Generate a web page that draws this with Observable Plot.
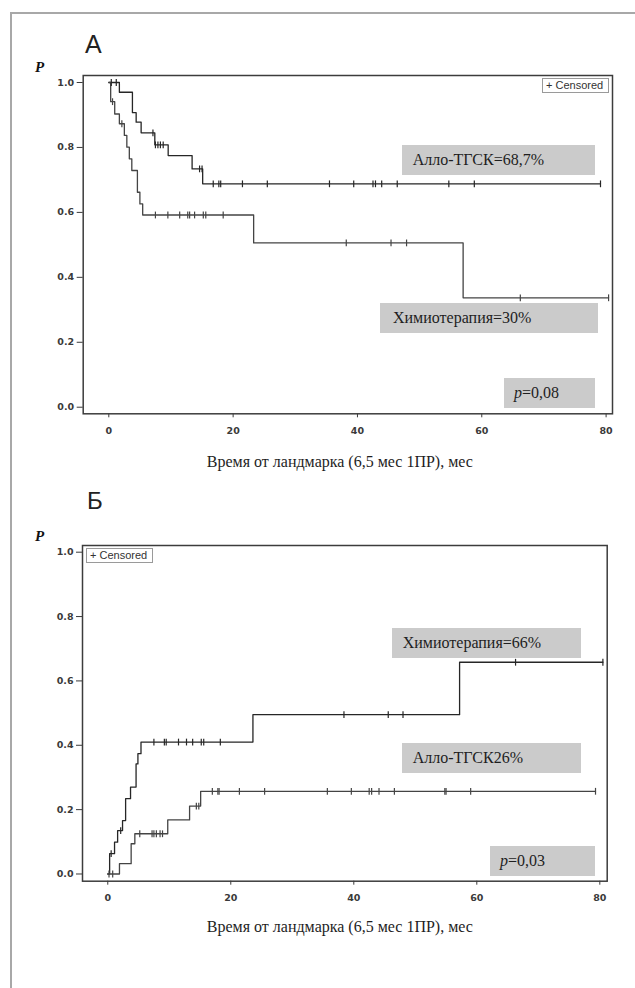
<!DOCTYPE html>
<html><head><meta charset="utf-8">
<script src="https://cdn.jsdelivr.net/npm/d3@7"></script>
<script src="https://cdn.jsdelivr.net/npm/@observablehq/plot@0.6"></script>
<style>
body{margin:0;background:#fff;}
#page{position:relative;width:635px;height:988px;overflow:hidden;background:#fff;}
.box{position:absolute;background:#cbcbcb;font-family:"Liberation Serif","Times New Roman",serif;font-size:16px;color:#1e1e1e;white-space:nowrap;box-sizing:border-box;}
.leg{position:absolute;border:1px solid #9a9a9a;font-family:"Liberation Sans",Arial,sans-serif;font-size:11px;color:#333;box-sizing:border-box;white-space:nowrap;background:#fff;line-height:13px;padding-left:3px;}
.plab{position:absolute;font-family:"Liberation Serif","Times New Roman",serif;font-weight:bold;font-style:italic;font-size:15px;line-height:15px;color:#111;}
.pan{position:absolute;font-family:"Liberation Sans",Arial,sans-serif;color:#222;line-height:1;}
svg{position:absolute;left:0;}
</style></head>
<body><div id="page"></div>
<script>
// ---------- data ----------
const panelLabels = ["А", "Б"];
const xTicks = [0, 20, 40, 60, 80];
const yTicks = [0, 0.2, 0.4, 0.6, 0.8, 1.0];
const xTitle = "Время от ландмарка (6,5 мес 1ПР), мес";
const legendText = "+ Censored";

// Panel А (survival, starts at 1)
const aStart = 1;
const aAlloT = [1.7, 3.8, 4.4, 5.2, 7.4, 9.55, 13.4, 15.1];
const aAlloP = [0.970, 0.907, 0.878, 0.845, 0.808, 0.775, 0.734, 0.688];
const aAlloCens = [0.4, 1.2, 7.1, 7.5, 7.9, 8.3, 8.75, 14.6, 15.0, 16.8, 17.7, 18.0, 21.5, 25.5, 35.5, 39.4, 42.5, 42.9, 43.9, 46.4, 54.7, 58.8, 79.1];
const aChemoT = [0.3, 0.95, 1.7, 2.5, 2.9, 3.3, 3.7, 4.6, 5.0, 5.45, 23.3, 57.0];
const aChemoP = [0.941, 0.903, 0.873, 0.837, 0.801, 0.765, 0.729, 0.662, 0.626, 0.592, 0.506, 0.337];
const aChemoCens = [0.6, 2.1, 7.5, 9.5, 11.4, 12.7, 13.0, 13.8, 15.2, 15.6, 18.4, 38.2, 45.4, 47.9, 66.2, 80.4];
const aNotes = ["Алло-ТГСК=68,7%", "Химиотерапия=30%", "=0,08"];

// Panel Б (cumulative, starts at 0)
const bStart = 0;
const bChemoT = [0.3, 1.1, 1.6, 2.4, 2.9, 3.7, 4.6, 4.9, 5.4, 23.6, 57.2];
const bChemoP = [0.063, 0.099, 0.135, 0.166, 0.234, 0.270, 0.342, 0.374, 0.410, 0.495, 0.658];
const bChemoCens = [0.55, 2.1, 7.5, 9.2, 9.5, 11.5, 12.8, 13.8, 15.2, 15.6, 18.3, 38.4, 45.6, 48.0, 66.3, 80.5];
const bAlloT = [1.9, 3.8, 4.4, 9.75, 13.3, 15.1];
const bAlloP = [0.032, 0.094, 0.125, 0.168, 0.211, 0.257];
const bAlloCens = [0.2, 0.8, 5.2, 7.2, 7.5, 7.9, 8.5, 8.9, 14.4, 14.8, 17.0, 17.9, 18.1, 21.4, 25.5, 35.7, 39.6, 42.5, 42.9, 44.1, 46.6, 54.8, 55.0, 59.0, 79.3];
const bNotes = ["Химиотерапия=66%", "Алло-ТГСК26%", "=0,03"];

// ---------- helpers ----------
const page = document.getElementById("page");
function div(cls, left, top, w, h, html, css) {
  const d = document.createElement("div");
  d.className = cls;
  d.style.left = left + "px"; d.style.top = top + "px";
  if (w != null) d.style.width = w + "px";
  if (h != null) { d.style.height = h + "px"; }
  if (css) Object.assign(d.style, css);
  d.innerHTML = html;
  page.appendChild(d);
  return d;
}
function steps(T, P, start, cens) {
  const end = Math.max(d3.max(T), d3.max(cens));
  const arr = [{t: 0, p: start}];
  T.forEach((t, i) => arr.push({t, p: P[i]}));
  arr.push({t: end, p: P[P.length - 1]});
  return arr;
}
function censPts(T, P, start, cens) {
  return cens.map(t => {
    let v = start;
    for (let i = 0; i < T.length; i++) if (T[i] <= t) v = P[i];
    return {t, p: v};
  });
}
const vbar = {draw(ctx, size) { const r = Math.sqrt(size / Math.PI); ctx.moveTo(0, -r); ctx.lineTo(0, r); }};

function panel(c) {
  const s1 = steps(c.T1, c.P1, c.start, c.C1), s2 = steps(c.T2, c.P2, c.start, c.C2);
  const k1 = censPts(c.T1, c.P1, c.start, c.C1), k2 = censPts(c.T2, c.P2, c.start, c.C2);
  const svg = Plot.plot({
    width: 635, height: 420,
    marginTop: c.mt, marginBottom: c.mb, marginLeft: c.ml, marginRight: c.mr,
    style: {fontFamily: "DejaVu Sans", fontSize: "10px", color: "#3a3a3a", background: "transparent", overflow: "visible"},
    x: {domain: c.xd},
    y: {domain: c.yd},
    marks: [
      Plot.axisY({ticks: yTicks, tickFormat: d3.format(".1f"), tickSize: 6, tickPadding: 3, label: null, fontWeight: "bold", fontSize: 9.5}),
      Plot.axisX({ticks: xTicks, tickFormat: d3.format("d"), tickSize: 4, tickPadding: 9, label: null, fontWeight: "bold", fontSize: 9.5}),
      Plot.line(s1, {x: "t", y: "p", curve: "step-after", stroke: c.col1, strokeWidth: 1.3}),
      Plot.line(s2, {x: "t", y: "p", curve: "step-after", stroke: c.col2, strokeWidth: 1.3}),
      Plot.dot(k1, {x: "t", y: "p", symbol: vbar, r: 3.4, stroke: c.col1, strokeWidth: 1.2, fill: "none"}),
      Plot.dot(k2, {x: "t", y: "p", symbol: vbar, r: 3.4, stroke: c.col2, strokeWidth: 1.2, fill: "none"}),
      Plot.frame({stroke: "#3c3c3c", strokeWidth: 1.5}),
      Plot.text([xTitle], {text: d => d, frameAnchor: "bottom", dy: c.tdy, dx: c.tdx, lineAnchor: "middle",
        fontFamily: "Liberation Serif", fontSize: 16, fill: "#1e1e1e"})
    ]
  });
  svg.style.top = c.top + "px";
  page.appendChild(svg);
}

// outer border
div("", 10, 11.5, 700, 1000, "", {position: "absolute", borderLeft: "2.5px solid #a8a8a8", borderTop: "2.5px solid #a8a8a8"});

// ---------- panel А ----------
div("pan", 85, 31.7, null, null, panelLabels[0], {fontSize: "25px"});
div("plab", 35, 60, null, null, "P");
panel({top: 56, mt: 19, mb: 62.7, ml: 82.7, mr: 23, xd: [-4.12, 81.03], yd: [-0.0203, 1.0216],
  T1: aAlloT, P1: aAlloP, C1: aAlloCens, T2: aChemoT, P2: aChemoP, C2: aChemoCens, start: aStart,
  col1: "#262626", col2: "#444", tdy: 48.4, tdx: -8});
div("leg", 542, 78, 67, 15, legendText);
div("box", 401.7, 145, 193.3, 30, aNotes[0], {lineHeight: "30px", paddingLeft: "11px"});
div("box", 380, 303, 218, 30, aNotes[1], {lineHeight: "30px", paddingLeft: "13px"});
div("box", 504, 378, 91, 30, "<i>p</i>" + aNotes[2], {lineHeight: "30px", paddingLeft: "10px"});

// ---------- panel Б ----------
div("pan", 87, 489, null, null, panelLabels[1], {fontSize: "24px"});
div("plab", 35, 529, null, null, "P");
panel({top: 525, mt: 20, mb: 64.3, ml: 82, mr: 28.3, xd: [-4.11, 81.2], yd: [-0.0224, 1.0208],
  T1: bChemoT, P1: bChemoP, C1: bChemoCens, T2: bAlloT, P2: bAlloP, C2: bAlloCens, start: bStart,
  col1: "#262626", col2: "#444", tdy: 46, tdx: -5});
div("leg", 86, 548, 67, 15, legendText);
div("box", 391.7, 627.7, 189.3, 30, bNotes[0], {lineHeight: "30px", paddingLeft: "11px"});
div("box", 401.7, 742.7, 179.3, 30, bNotes[1], {lineHeight: "30px", paddingLeft: "11px"});
div("box", 490, 846, 105, 30, "<i>p</i>" + bNotes[2], {lineHeight: "30px", paddingLeft: "10px"});
</script></body></html>
